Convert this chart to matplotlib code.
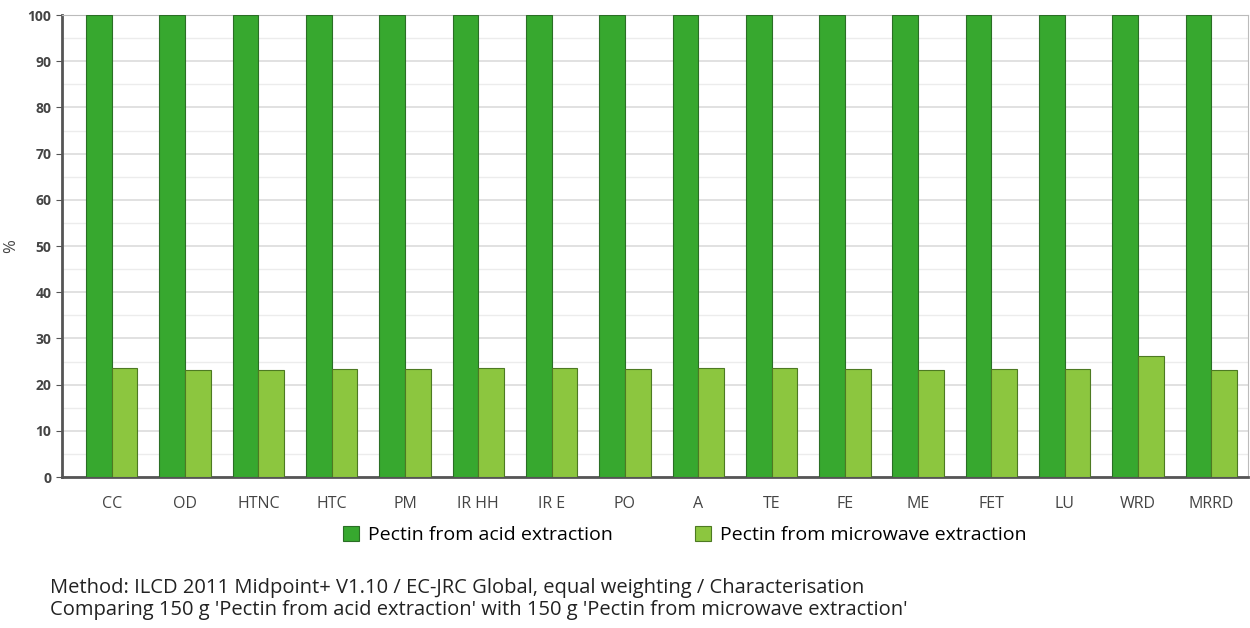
import matplotlib.pyplot as plt
import numpy as np
from matplotlib.ticker import MultipleLocator

categories = ["CC", "OD", "HTNC", "HTC", "PM", "IR HH", "IR E", "PO", "A", "TE",
              "FE", "ME", "FET", "LU", "WRD", "MRRD"]
acid = [100, 100, 100, 100, 100, 100, 100, 100, 100, 100, 100, 100, 100, 100, 100, 100]
microwave = [23.6, 23.2, 23.2, 23.4, 23.4, 23.6, 23.5, 23.4, 23.5, 23.5,
             23.4, 23.1, 23.4, 23.4, 26.2, 23.1]

plt.rcParams['font.family'] = ['Open Sans', 'DejaVu Sans']

fig = plt.figure(figsize=(12.5, 6.28), dpi=100)
ax = fig.add_axes([0.0496, 0.2404, 0.9488, 0.7357])

x = np.arange(len(categories))
w = 0.35
ax.bar(x - w / 2, acid, w, color="#37a82f", edgecolor="#2a6e25", linewidth=0.8,
       label="Pectin from acid extraction", zorder=3)
ax.bar(x + w / 2, microwave, w, color="#8cc63f", edgecolor="#4d7a22", linewidth=0.8,
       label="Pectin from microwave extraction", zorder=3)

ax.set_xlim(-0.68, 15.5)
ax.set_ylim(0, 100)
ax.yaxis.set_major_locator(MultipleLocator(10))
ax.yaxis.set_minor_locator(MultipleLocator(5))
ax.grid(axis="y", which="major", color="#dcdcdc", linewidth=1.2, zorder=0)
ax.grid(axis="y", which="minor", color="#ececec", linewidth=1.0, zorder=0)

ax.set_xticks(x)
ax.set_xticklabels(categories, fontsize=11.5, color="#444444")
ax.tick_params(axis="y", labelsize=10, labelcolor="#444444", length=4, color="#555555")
ax.tick_params(axis="y", which="minor", length=0)
ax.tick_params(axis="x", length=0, pad=14)
for lbl in ax.get_yticklabels():
    lbl.set_fontweight("bold")
ax.set_ylabel("%", fontsize=12, color="#444444", labelpad=6)

ax.spines["left"].set_color("#555555")
ax.spines["left"].set_linewidth(2)
ax.spines["bottom"].set_color("#555555")
ax.spines["bottom"].set_linewidth(2)
ax.spines["top"].set_color("#bbbbbb")
ax.spines["right"].set_color("#bbbbbb")

fig.legend(loc="center", bbox_to_anchor=(0.548, 0.148), ncol=2, frameon=False,
           fontsize=14, handlelength=0.8, handleheight=0.8, columnspacing=4.2,
           handletextpad=0.5)

fig.text(0.04, 0.063, "Method: ILCD 2011 Midpoint+ V1.10 / EC-JRC Global, equal weighting / Characterisation",
         fontsize=14.5, color="#222222", va="center")
fig.text(0.04, 0.028, "Comparing 150 g 'Pectin from acid extraction' with 150 g 'Pectin from microwave extraction'",
         fontsize=14.5, color="#222222", va="center")

fig.savefig("out.png", dpi=100)
